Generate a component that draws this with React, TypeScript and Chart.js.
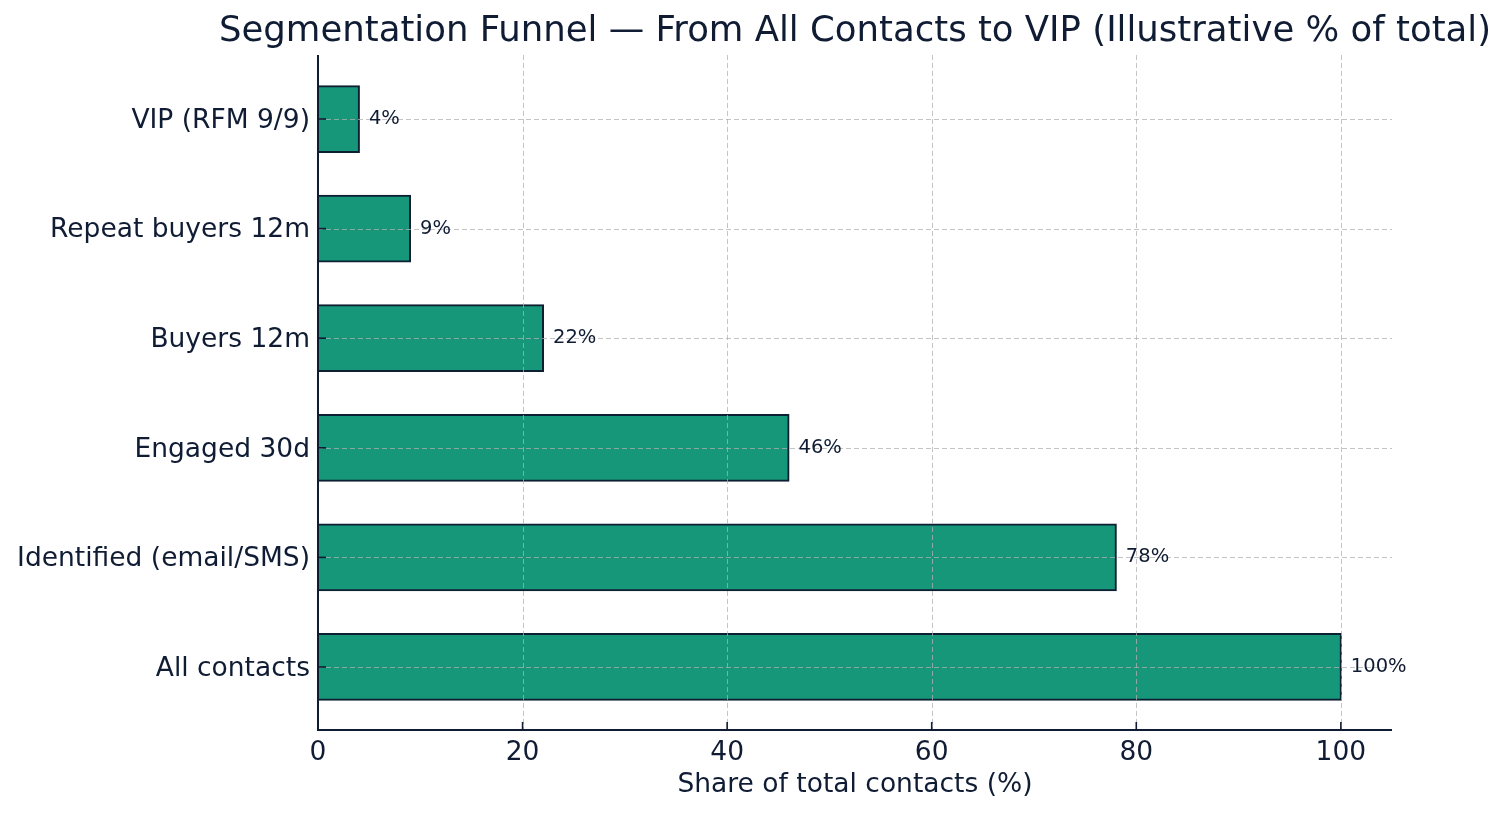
import React, { useEffect, useRef } from "react";
import { Chart, registerables } from "chart.js";

Chart.register(...registerables);

const categories = [
  "All contacts",
  "Identified (email/SMS)",
  "Engaged 30d",
  "Buyers 12m",
  "Repeat buyers 12m",
  "VIP (RFM 9/9)",
];
const shares = [100, 78, 46, 22, 9, 4];
const xTicks = [0, 20, 40, 60, 80, 100];
const titleText = "Segmentation Funnel — From All Contacts to VIP (Illustrative % of total)";
const xAxisTitle = "Share of total contacts (%)";

const FONT = "'DejaVu Sans', sans-serif";
const TEXT = "#0f1c33";
const BAR = "#17977a";
const EDGE = "#0c1f33";

export default function App() {
  const ref = useRef<HTMLCanvasElement | null>(null);

  useEffect(() => {
    if (!ref.current) return;
    const decor = {
      id: "decor",
      afterDatasetsDraw(chart: any) {
        const { ctx, chartArea: a, scales } = chart;
        const xs = scales.x;
        const ys = scales.y;
        ctx.save();
        // grid
        ctx.strokeStyle = "rgba(176,176,176,0.75)";
        ctx.lineWidth = 1;
        ctx.setLineDash([5, 3]);
        xTicks.forEach((v) => {
          const px = Math.round(xs.getPixelForValue(v)) + 0.5;
          ctx.beginPath();
          ctx.moveTo(px, a.top);
          ctx.lineTo(px, a.bottom);
          ctx.stroke();
        });
        categories.forEach((_, i) => {
          const py = Math.round(ys.getPixelForValue(i)) + 0.5;
          ctx.beginPath();
          ctx.moveTo(a.left, py);
          ctx.lineTo(a.right, py);
          ctx.stroke();
        });
        ctx.setLineDash([]);
        // spines
        ctx.strokeStyle = TEXT;
        ctx.lineWidth = 2;
        ctx.beginPath();
        ctx.moveTo(a.left, a.top);
        ctx.lineTo(a.left, a.bottom);
        ctx.lineTo(a.right, a.bottom);
        ctx.stroke();
        // inward ticks
        ctx.lineWidth = 1.6;
        xTicks.forEach((v) => {
          const px = xs.getPixelForValue(v);
          ctx.beginPath();
          ctx.moveTo(px, a.bottom);
          ctx.lineTo(px, a.bottom - 8);
          ctx.stroke();
        });
        categories.forEach((_, i) => {
          const py = ys.getPixelForValue(i);
          ctx.beginPath();
          ctx.moveTo(a.left, py);
          ctx.lineTo(a.left + 8, py);
          ctx.stroke();
        });
        // y category labels
        ctx.fillStyle = TEXT;
        ctx.font = `26.5px ${FONT}`;
        ctx.textAlign = "right";
        ctx.textBaseline = "middle";
        categories.forEach((c, i) => {
          ctx.fillText(c, a.left - 8, ys.getPixelForValue(i) + 2);
        });
        // value labels
        ctx.font = `19.5px ${FONT}`;
        ctx.textAlign = "left";
        ctx.textBaseline = "middle";
        const meta = chart.getDatasetMeta(0);
        meta.data.forEach((bar: any, i: number) => {
          ctx.fillText(`${shares[i]}%`, xs.getPixelForValue(shares[i]) + 10, bar.y);
        });
        // titles
        const cx = (a.left + a.right) / 2;
        ctx.font = `35.5px ${FONT}`;
        ctx.textAlign = "center";
        ctx.textBaseline = "middle";
        ctx.fillText(titleText, cx, 32);
        ctx.font = `26.5px ${FONT}`;
        ctx.fillText(xAxisTitle, cx, 785);
        ctx.restore();
      },
    };

    const chart = new Chart(ref.current, {
      type: "bar",
      data: {
        datasets: [
          {
            data: shares.map((v, i) => ({ x: v, y: i })),
            backgroundColor: BAR,
            borderColor: EDGE,
            borderWidth: 2,
            inflateAmount: 1,
            categoryPercentage: 1,
            barPercentage: 0.6,
          },
        ],
      },
      options: {
        indexAxis: "y",
        animation: false,
        responsive: true,
        maintainAspectRatio: false,
        layout: { padding: { left: 0, right: 116, top: 55, bottom: 0 } },
        plugins: { legend: { display: false }, tooltip: { enabled: false }, title: { display: false } },
        scales: {
          x: {
            type: "linear",
            min: 0,
            max: 105,
            offset: false,
            grid: { display: false, drawTicks: false },
            border: { display: false },
            afterBuildTicks: (s: any) => {
              s.ticks = xTicks.map((v) => ({ value: v }));
            },
            afterFit: (s: any) => {
              s.height = 85;
            },
            ticks: {
              color: TEXT,
              font: { family: FONT, size: 26.5 },
              padding: 7,
              maxRotation: 0,
              callback: (v: any) => String(v),
            },
          },
          y: {
            type: "linear",
            min: -0.575,
            max: 5.584,
            offset: false,
            grid: { display: false, drawTicks: false },
            border: { display: false },
            afterBuildTicks: (s: any) => {
              s.ticks = categories.map((_, i) => ({ value: i }));
            },
            afterFit: (s: any) => {
              s.width = 318;
            },
            ticks: {
              display: false,
            },
          },
        },
      },
      plugins: [decor],
    } as any);
    return () => chart.destroy();
  }, []);

  return (
    <div style={{ position: "absolute", left: 0, top: 0, width: 1508, height: 815, background: "#fff" }}>
      <canvas ref={ref} />
    </div>
  );
}
